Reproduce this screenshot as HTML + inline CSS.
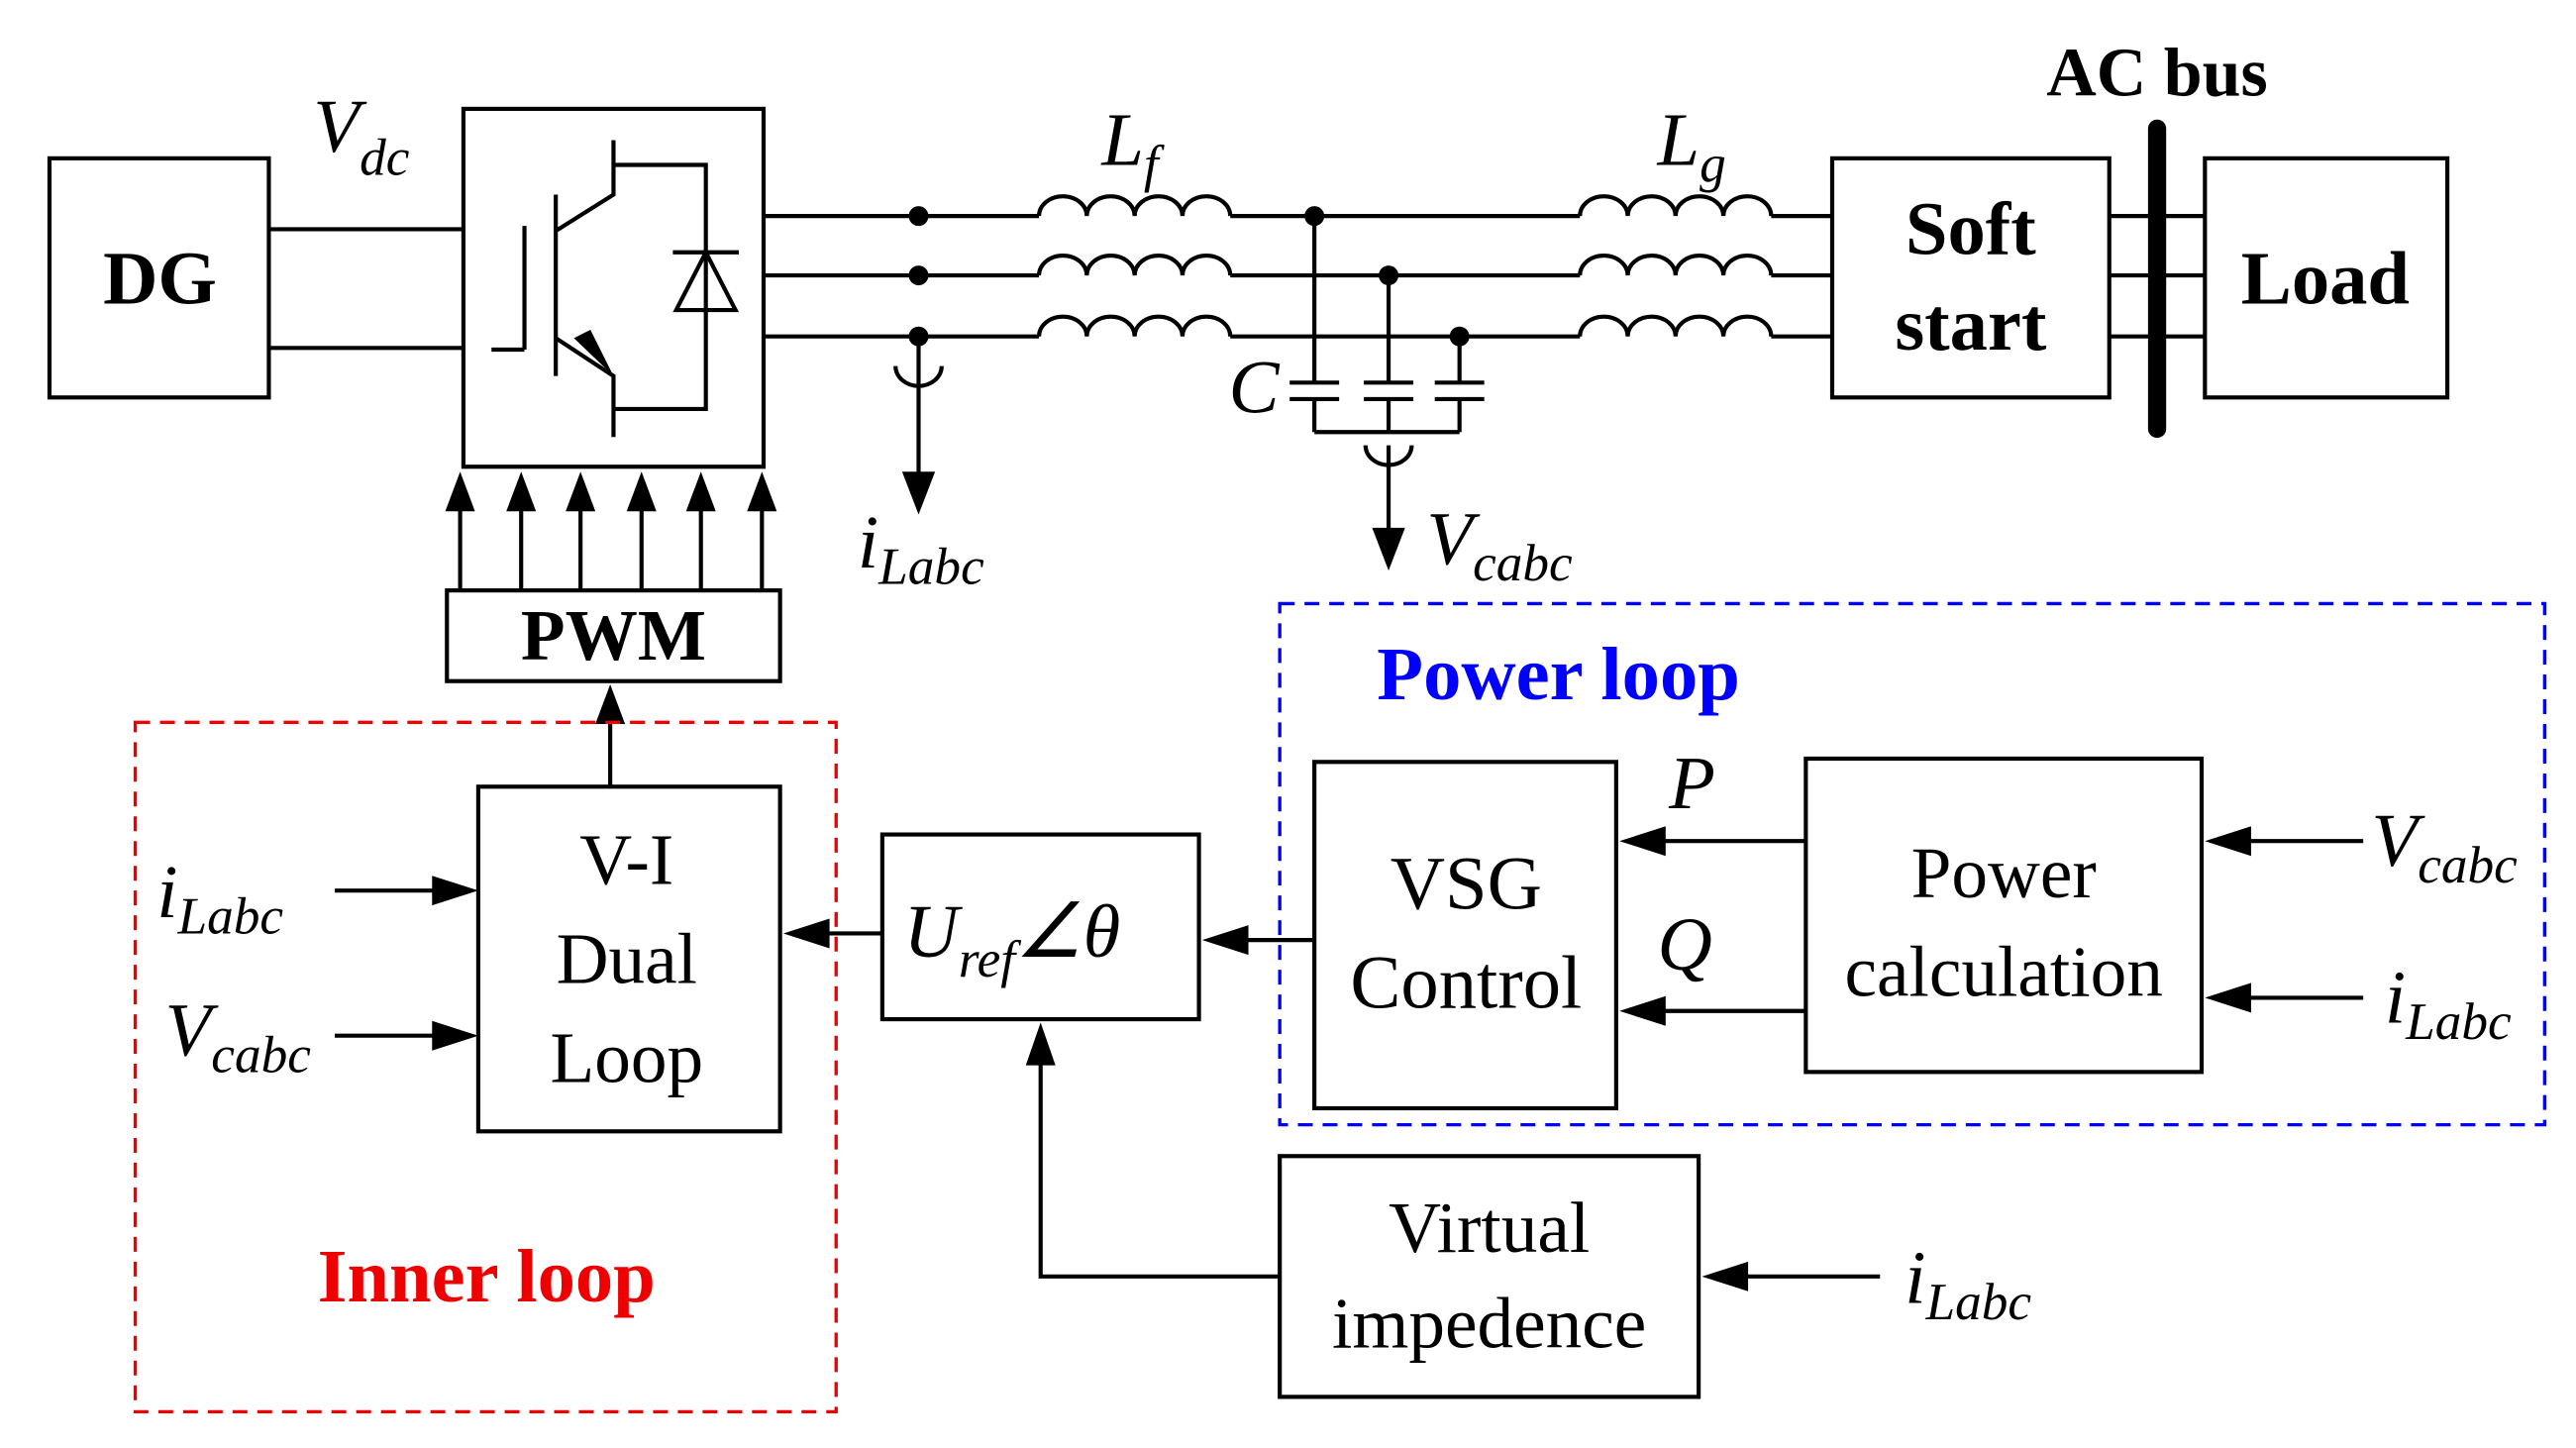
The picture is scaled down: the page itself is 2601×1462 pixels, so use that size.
<!DOCTYPE html>
<html><head><meta charset="utf-8"><style>
html,body{margin:0;padding:0;background:#fff;}
svg{display:block;}
text{font-family:"Liberation Serif",serif;}
</style></head><body>
<svg width="2601" height="1462" viewBox="0 0 1562 878" xmlns="http://www.w3.org/2000/svg">
<g fill="none" stroke="#000" stroke-width="2.5">
<rect x="30" y="96" width="133" height="145"/>
<line x1="163" y1="139" x2="281" y2="139"/>
<line x1="163" y1="211" x2="281" y2="211"/>
<rect x="281" y="66" width="182" height="217"/>
<line x1="318" y1="137" x2="318" y2="212"/>
<line x1="298" y1="212" x2="318" y2="212"/>
<line x1="337" y1="118" x2="337" y2="228"/>
<polyline points="337,140 372,118 372,85"/>
<polyline points="337,205 372,228 372,265"/>
<polyline points="372,100 428,100 428,248 372,248"/>
<line x1="408" y1="153" x2="448" y2="153"/>
<polygon points="428,153 410,188 446,188"/>
<line x1="463" y1="131" x2="630" y2="131"/>
<line x1="463" y1="167" x2="630" y2="167"/>
<line x1="463" y1="204" x2="630" y2="204"/>
<path d="M630,131 a14.5,12 0 0 1 29,0 a14.5,12 0 0 1 29,0 a14.5,12 0 0 1 29,0 a14.5,12 0 0 1 29,0"/>
<path d="M630,167 a14.5,12 0 0 1 29,0 a14.5,12 0 0 1 29,0 a14.5,12 0 0 1 29,0 a14.5,12 0 0 1 29,0"/>
<path d="M630,204 a14.5,12 0 0 1 29,0 a14.5,12 0 0 1 29,0 a14.5,12 0 0 1 29,0 a14.5,12 0 0 1 29,0"/>
<line x1="746" y1="131" x2="958" y2="131"/>
<line x1="746" y1="167" x2="958" y2="167"/>
<line x1="746" y1="204" x2="958" y2="204"/>
<path d="M958,131 a14.5,12 0 0 1 29,0 a14.5,12 0 0 1 29,0 a14.5,12 0 0 1 29,0 a14.5,12 0 0 1 29,0"/>
<path d="M958,167 a14.5,12 0 0 1 29,0 a14.5,12 0 0 1 29,0 a14.5,12 0 0 1 29,0 a14.5,12 0 0 1 29,0"/>
<path d="M958,204 a14.5,12 0 0 1 29,0 a14.5,12 0 0 1 29,0 a14.5,12 0 0 1 29,0 a14.5,12 0 0 1 29,0"/>
<line x1="1074" y1="131" x2="1111" y2="131"/>
<line x1="1074" y1="167" x2="1111" y2="167"/>
<line x1="1074" y1="204" x2="1111" y2="204"/>
<line x1="797" y1="131" x2="797" y2="232"/>
<line x1="842" y1="167" x2="842" y2="232"/>
<line x1="885" y1="204" x2="885" y2="232"/>
<line x1="782" y1="232" x2="812" y2="232"/><line x1="782" y1="242" x2="812" y2="242"/>
<line x1="827" y1="232" x2="857" y2="232"/><line x1="827" y1="242" x2="857" y2="242"/>
<line x1="870" y1="232" x2="900" y2="232"/><line x1="870" y1="242" x2="900" y2="242"/>
<line x1="797" y1="242" x2="797" y2="262"/>
<line x1="842" y1="242" x2="842" y2="262"/>
<line x1="885" y1="242" x2="885" y2="262"/>
<line x1="797" y1="262" x2="885" y2="262"/>
<path d="M828,270 a14,12 0 0 0 28,0"/>
<line x1="842" y1="270" x2="842" y2="335"/>
<path d="M543,222 a14,12 0 0 0 28,0"/>
<line x1="557" y1="204" x2="557" y2="300"/>
<rect x="1111" y="96" width="168" height="145"/>
<rect x="1337" y="96" width="147" height="145"/>
<line x1="1279" y1="131" x2="1337" y2="131"/>
<line x1="1279" y1="167" x2="1337" y2="167"/>
<line x1="1279" y1="204" x2="1337" y2="204"/>
<line x1="1308" y1="78" x2="1308" y2="260" stroke-width="11" stroke-linecap="round"/>
<rect x="271" y="358" width="202" height="55"/>
<line x1="279" y1="358" x2="279" y2="300"/><line x1="316" y1="358" x2="316" y2="300"/>
<line x1="352" y1="358" x2="352" y2="300"/><line x1="389" y1="358" x2="389" y2="300"/>
<line x1="425" y1="358" x2="425" y2="300"/><line x1="462" y1="358" x2="462" y2="300"/>
<line x1="370" y1="477" x2="370" y2="430"/>
<rect x="290" y="477" width="183" height="209"/>
<rect x="535" y="506" width="192" height="112"/>
<rect x="797" y="462" width="183" height="210"/>
<rect x="1095" y="460" width="240" height="190"/>
<rect x="776" y="701" width="254" height="146"/>
<line x1="203" y1="540" x2="275" y2="540"/>
<line x1="203" y1="628" x2="275" y2="628"/>
<line x1="535" y1="566" x2="495" y2="566"/>
<line x1="797" y1="570" x2="748" y2="570"/>
<line x1="1095" y1="510" x2="1000" y2="510"/>
<line x1="1095" y1="613" x2="1000" y2="613"/>
<line x1="1433" y1="510" x2="1355" y2="510"/>
<line x1="1433" y1="605" x2="1355" y2="605"/>
<line x1="1140" y1="774" x2="1050" y2="774"/>
<polyline points="776,774 631,774 631,640"/>
</g>
<g fill="#000">
<circle cx="557" cy="131" r="6"/><circle cx="557" cy="167" r="6"/><circle cx="557" cy="204" r="6"/>
<circle cx="797" cy="131" r="6"/><circle cx="842" cy="167" r="6"/><circle cx="885" cy="204" r="6"/>
<polygon points="348,205 372,228 358,200"/>
<polygon points="557,312 547,286 567,286"/>
<polygon points="842,346 832,320 852,320"/>
<polygon points="279,286 270,310 288,310"/><polygon points="316,286 307,310 325,310"/>
<polygon points="352,286 343,310 361,310"/><polygon points="389,286 380,310 398,310"/>
<polygon points="425,286 416,310 434,310"/><polygon points="462,286 453,310 471,310"/>
<polygon points="370,415 361,439 379,439"/>
<polygon points="290,540 262,531 262,549"/>
<polygon points="290,628 262,619 262,637"/>
<polygon points="475,566 503,557 503,575"/>
<polygon points="729,570 757,561 757,579"/>
<polygon points="982,510 1010,501 1010,519"/>
<polygon points="982,613 1010,604 1010,622"/>
<polygon points="1337,510 1365,501 1365,519"/>
<polygon points="1337,605 1365,596 1365,614"/>
<polygon points="1032,774 1060,765 1060,783"/>
<polygon points="631,620 622,646 640,646"/>
</g>
<rect x="82" y="438" width="425" height="418" fill="none" stroke="#e00" stroke-width="2" stroke-dasharray="9,6"/>
<rect x="776" y="366" width="767" height="316" fill="none" stroke="#00f" stroke-width="2" stroke-dasharray="9,6"/>
<g font-size="44" fill="#000">
<text x="97" y="184" text-anchor="middle" font-weight="bold" font-size="46">DG</text>
<text x="1195" y="154" text-anchor="middle" font-weight="bold" font-size="46">Soft</text>
<text x="1195" y="212" text-anchor="middle" font-weight="bold" font-size="46">start</text>
<text x="1410" y="184" text-anchor="middle" font-weight="bold" font-size="46">Load</text>
<text x="1308" y="58" text-anchor="middle" font-weight="bold" font-size="42">AC bus</text>
<text x="372" y="400" text-anchor="middle" font-weight="bold" font-size="44">PWM</text>
<text x="380" y="536" text-anchor="middle">V-I</text>
<text x="380" y="596" text-anchor="middle">Dual</text>
<text x="380" y="656" text-anchor="middle">Loop</text>
<text x="889" y="551" text-anchor="middle" font-size="46">VSG</text>
<text x="889" y="611" text-anchor="middle" font-size="46">Control</text>
<text x="1215" y="544" text-anchor="middle">Power</text>
<text x="1215" y="604" text-anchor="middle">calculation</text>
<text x="903" y="759" text-anchor="middle">Virtual</text>
<text x="903" y="817" text-anchor="middle">impedence</text>
<text x="295" y="789" text-anchor="middle" font-weight="bold" fill="#e00" font-size="46">Inner loop</text>
<text x="945" y="424" text-anchor="middle" font-weight="bold" fill="#00f" font-size="46">Power loop</text>
<g font-style="italic" font-size="46">
<text x="190" y="92">V<tspan font-size="32" dy="14">dc</tspan></text>
<text x="668" y="100">L<tspan font-size="32" dy="10">f</tspan></text>
<text x="1005" y="100">L<tspan font-size="32" dy="10">g</tspan></text>
<text x="745" y="250">C</text>
<text x="520" y="344">i<tspan font-size="32" dy="10">Labc</tspan></text>
<text x="865" y="342">V<tspan font-size="32" dy="10">cabc</tspan></text>
<text x="95" y="556">i<tspan font-size="32" dy="10">Labc</tspan></text>
<text x="100" y="640">V<tspan font-size="32" dy="10">cabc</tspan></text>
<text x="548" y="580">U<tspan font-size="32" dy="12">ref</tspan><tspan dy="-12">∠θ</tspan></text>
<text x="1012" y="490">P</text>
<text x="1005" y="588">Q</text>
<text x="1438" y="525">V<tspan font-size="32" dy="10">cabc</tspan></text>
<text x="1446" y="620">i<tspan font-size="32" dy="10">Labc</tspan></text>
<text x="1155" y="790">i<tspan font-size="32" dy="10">Labc</tspan></text>
</g>
</g>
</svg>
</body></html>
